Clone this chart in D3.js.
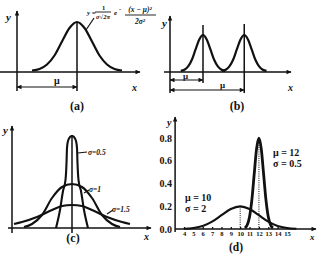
<!DOCTYPE html>
<html>
<head>
<meta charset="utf-8">
<script src="https://cdn.jsdelivr.net/npm/d3@7"></script>
<style>
  body { margin: 0; background: #fff; }
  text { font-family: "Liberation Serif", "DejaVu Serif", serif; fill: #111; font-weight: bold; }
</style>
</head>
<body>
<svg id="chart" width="318" height="256"></svg>
<script>
// bell shape (a) and (b): offset in sigmas, relative height
const bellZ = [-3, -2.5, -2, -1.5, -1, -0.5, 0, 0.5, 1, 1.5, 2, 2.5, 3];
const bellH = [0.03, 0.06, 0.15, 0.33, 0.61, 0.88, 1, 0.88, 0.61, 0.33, 0.15, 0.06, 0.03];

const aMu = 4, aSigma = 1;
const bMu = [4, 9], bSigma = 0.9;

// panel (c): three curves, same mean, sigma = 0.5, 1, 1.5
const cLabels = ["σ=0.5", "σ=1", "σ=1.5"];
const cX = [
  [-1.6, -1.2, -0.9, -0.65, -0.55, -0.5, -0.4, -0.2, 0, 0.2, 0.4, 0.5, 0.55, 0.65, 0.9, 1.2, 1.6],
  [-4.8, -4, -3, -2, -1, 0, 1, 2, 3, 4, 4.8],
  [-5.8, -5, -3.5, -2, -1, 0, 1, 2, 3.5, 5, 5.8]
];
const cY = [
  [0, 0.18, 0.37, 0.48, 0.65, 0.8, 0.87, 0.91, 0.92, 0.91, 0.87, 0.8, 0.65, 0.48, 0.37, 0.18, 0],
  [0.01, 0.04, 0.13, 0.3, 0.41, 0.44, 0.41, 0.3, 0.13, 0.04, 0.01],
  [0.04, 0.06, 0.11, 0.18, 0.22, 0.23, 0.22, 0.18, 0.11, 0.06, 0.04]
];

// panel (d)
const dTicksX = [4, 5, 6, 7, 8, 9, 10, 11, 12, 13, 14, 15];
const dTicksY = [0, 0.2, 0.4, 0.6, 0.8];
const dWideX = [4, 5, 6, 7, 8, 9, 10, 11, 12, 13, 14, 15, 16];
const dWideY = [0.002, 0.009, 0.027, 0.065, 0.121, 0.176, 0.199, 0.176, 0.121, 0.065, 0.027, 0.009, 0.002];
const dNarrowX = [10.5, 10.75, 11, 11.25, 11.5, 11.75, 12, 12.25, 12.5, 12.75, 13, 13.25, 13.5];
const dNarrowY = [0.009, 0.035, 0.108, 0.259, 0.484, 0.704, 0.798, 0.704, 0.484, 0.259, 0.108, 0.035, 0.009];
const dMu = [10, 12];
const dPeak = [0.199, 0.798];

const ink = "#111";
const svg = d3.select("#chart");

svg.append("defs").append("marker")
  .attr("id", "ah")
  .attr("viewBox", "0 0 10 10")
  .attr("refX", 9).attr("refY", 5)
  .attr("markerWidth", 6).attr("markerHeight", 5)
  .attr("markerUnits", "userSpaceOnUse")
  .attr("orient", "auto-start-reverse")
  .append("path").attr("d", "M0,0.5 L10,5 L0,9.5 z").attr("fill", ink);

function seg(x1, y1, x2, y2, opts = {}) {
  const l = svg.append("line")
    .attr("x1", x1).attr("y1", y1).attr("x2", x2).attr("y2", y2)
    .attr("stroke", ink).attr("stroke-width", opts.w || 1.5);
  if (opts.end) l.attr("marker-end", "url(#ah)");
  if (opts.start) l.attr("marker-start", "url(#ah)");
  if (opts.dash) l.attr("stroke-dasharray", opts.dash);
  return l;
}

function label(x, y, s, size, opts = {}) {
  return svg.append("text")
    .attr("x", x).attr("y", y)
    .attr("font-size", size)
    .attr("text-anchor", opts.anchor || "start")
    .attr("font-style", opts.italic ? "italic" : null)
    .text(s);
}

function curve(pts, xs, ys, w) {
  svg.append("path")
    .datum(pts)
    .attr("fill", "none")
    .attr("stroke", ink)
    .attr("stroke-width", w || 2)
    .attr("stroke-linejoin", "round")
    .attr("d", d3.line().x(d => xs(d[0])).y(d => ys(d[1])).curve(d3.curveMonotoneX));
}

// ---------- (a) ----------
const xA = d3.scaleLinear().domain([0, aMu]).range([17, 77]);
const yA = d3.scaleLinear().domain([0, 1]).range([72, 22]);
seg(xA(0), 91, xA(0), 11, { end: true });
seg(0, yA(0), 140, yA(0), { end: true });
curve(bellZ.map((z, i) => [aMu + z * aSigma, bellH[i]]), xA, yA, 2.2);
seg(xA(aMu), yA(1), xA(aMu), 91);
seg(xA(0), 87, xA(aMu), 87, { start: true, end: true, w: 1.1 });
label(54, 84, "μ", 10);
label(6, 21, "y", 11, { italic: true });
label(132, 91, "x", 10, { italic: true });
label(xA(aMu), 110, "(a)", 12, { anchor: "middle" });
// formula
seg(86, 30, 94, 18, { w: 1.2 });
label(87, 15, "y =", 7, { italic: true });
label(102, 10, "1", 6.5);
seg(95, 12, 111, 12, { w: 0.9 });
label(103, 18.5, "σ√2π", 6.5, { anchor: "middle", italic: true });
label(114, 15, "e", 7, { italic: true });
label(119, 11, "-", 6.5);
label(140, 12, "(x − μ)²", 7.5, { anchor: "middle", italic: true });
seg(125, 15, 156, 15, { w: 0.9 });
label(140, 23.5, "2σ²", 7.5, { anchor: "middle", italic: true });

// ---------- (b) ----------
const xB = d3.scaleLinear().domain([0, bMu[0]]).range([170, 203]);
const yB = d3.scaleLinear().domain([0, 1]).range([72, 35]);
seg(xB(0), 93, xB(0), 16, { end: true });
seg(164, yB(0), 291, yB(0), { end: true });
bMu.forEach(m => curve(bellZ.map((z, i) => [m + z * bSigma, bellH[i]]), xB, yB, 2.2));
seg(xB(bMu[0]), 25, xB(bMu[0]), 83);
seg(xB(bMu[1]), 24, xB(bMu[1]), 93);
seg(xB(0), 80, xB(bMu[0]), 80, { start: true, end: true, w: 1.1 });
seg(xB(0), 90, xB(bMu[1]), 90, { start: true, end: true, w: 1.1 });
label(183, 79, "μ", 9);
label(220, 88, "μ", 9);
label(162, 27, "y", 11, { italic: true });
label(288, 91, "x", 10, { italic: true });
label(237, 110, "(b)", 12, { anchor: "middle" });

// ---------- (c) ----------
const xC = d3.scaleLinear().domain([0, 1]).range([72, 82]);
const yC = d3.scaleLinear().domain([0, 1]).range([228, 128]);
seg(12, 233, 12, 126, { end: true });
seg(8, yC(0), 151, yC(0), { end: true });
cX.forEach((xs, k) => curve(xs.map((x, i) => [x, cY[k][i]]), xC, yC, 2.1));
seg(xC(0), yC(0.93), xC(0), 233);
seg(78, 153, 87, 152, { w: 1.1 });
label(88, 155, cLabels[0], 7.5, { italic: true });
seg(84, 193, 89, 190, { w: 1.1 });
label(89, 192, cLabels[1], 7.5, { italic: true });
seg(107, 214, 113, 210, { w: 1.1 });
label(112, 212, cLabels[2], 7.5, { italic: true });
label(3, 134, "y", 11, { italic: true });
label(144, 240, "x", 10, { italic: true });
label(73, 242, "(c)", 12, { anchor: "middle" });

// ---------- (d) ----------
const xD = d3.scaleLinear().domain([4, 15]).range([184, 287]);
const yD = d3.scaleLinear().domain([0, 0.8]).range([229, 138]);
seg(xD(3.05), 232, xD(3.05), 117, { end: true });
seg(xD(3.05), yD(0), 316, yD(0), { end: true });

const gx = svg.append("g").attr("transform", `translate(0,${yD(0)})`)
  .call(d3.axisBottom(xD).tickValues(dTicksX).tickSizeInner(-2).tickSizeOuter(0).tickPadding(2));
gx.select(".domain").remove();
gx.selectAll("line").attr("stroke", ink).attr("stroke-width", 1.3);
gx.selectAll("text").attr("font-size", 6.5).attr("font-family", "Liberation Serif").attr("font-weight", "bold").attr("fill", ink);

const gy = svg.append("g").attr("transform", `translate(${xD(3.05) - 1},0)`)
  .call(d3.axisLeft(yD).tickValues(dTicksY).tickFormat(d3.format(".1f")).tickSize(0).tickPadding(2));
gy.select(".domain").remove();
gy.selectAll("text").attr("font-size", 10).attr("font-family", "Liberation Serif").attr("font-weight", "bold").attr("fill", ink);

curve(dWideX.map((x, i) => [x, dWideY[i]]), xD, yD, 2.1);
curve(dNarrowX.map((x, i) => [x, dNarrowY[i]]), xD, yD, 2.8);
dMu.forEach((m, i) => seg(xD(m), yD(dPeak[i]), xD(m), yD(0), { w: 1, dash: "1,1.2" }));

label(273, 156, "μ = 12", 10);
label(273, 167, "σ = 0.5", 10);
label(185, 201, "μ = 10", 10);
label(185, 212, "σ = 2", 10);
label(167, 126, "y", 10, { italic: true });
label(310, 240, "x", 9, { italic: true });
label(236, 251, "(d)", 11.5, { anchor: "middle" });
</script>
</body>
</html>
